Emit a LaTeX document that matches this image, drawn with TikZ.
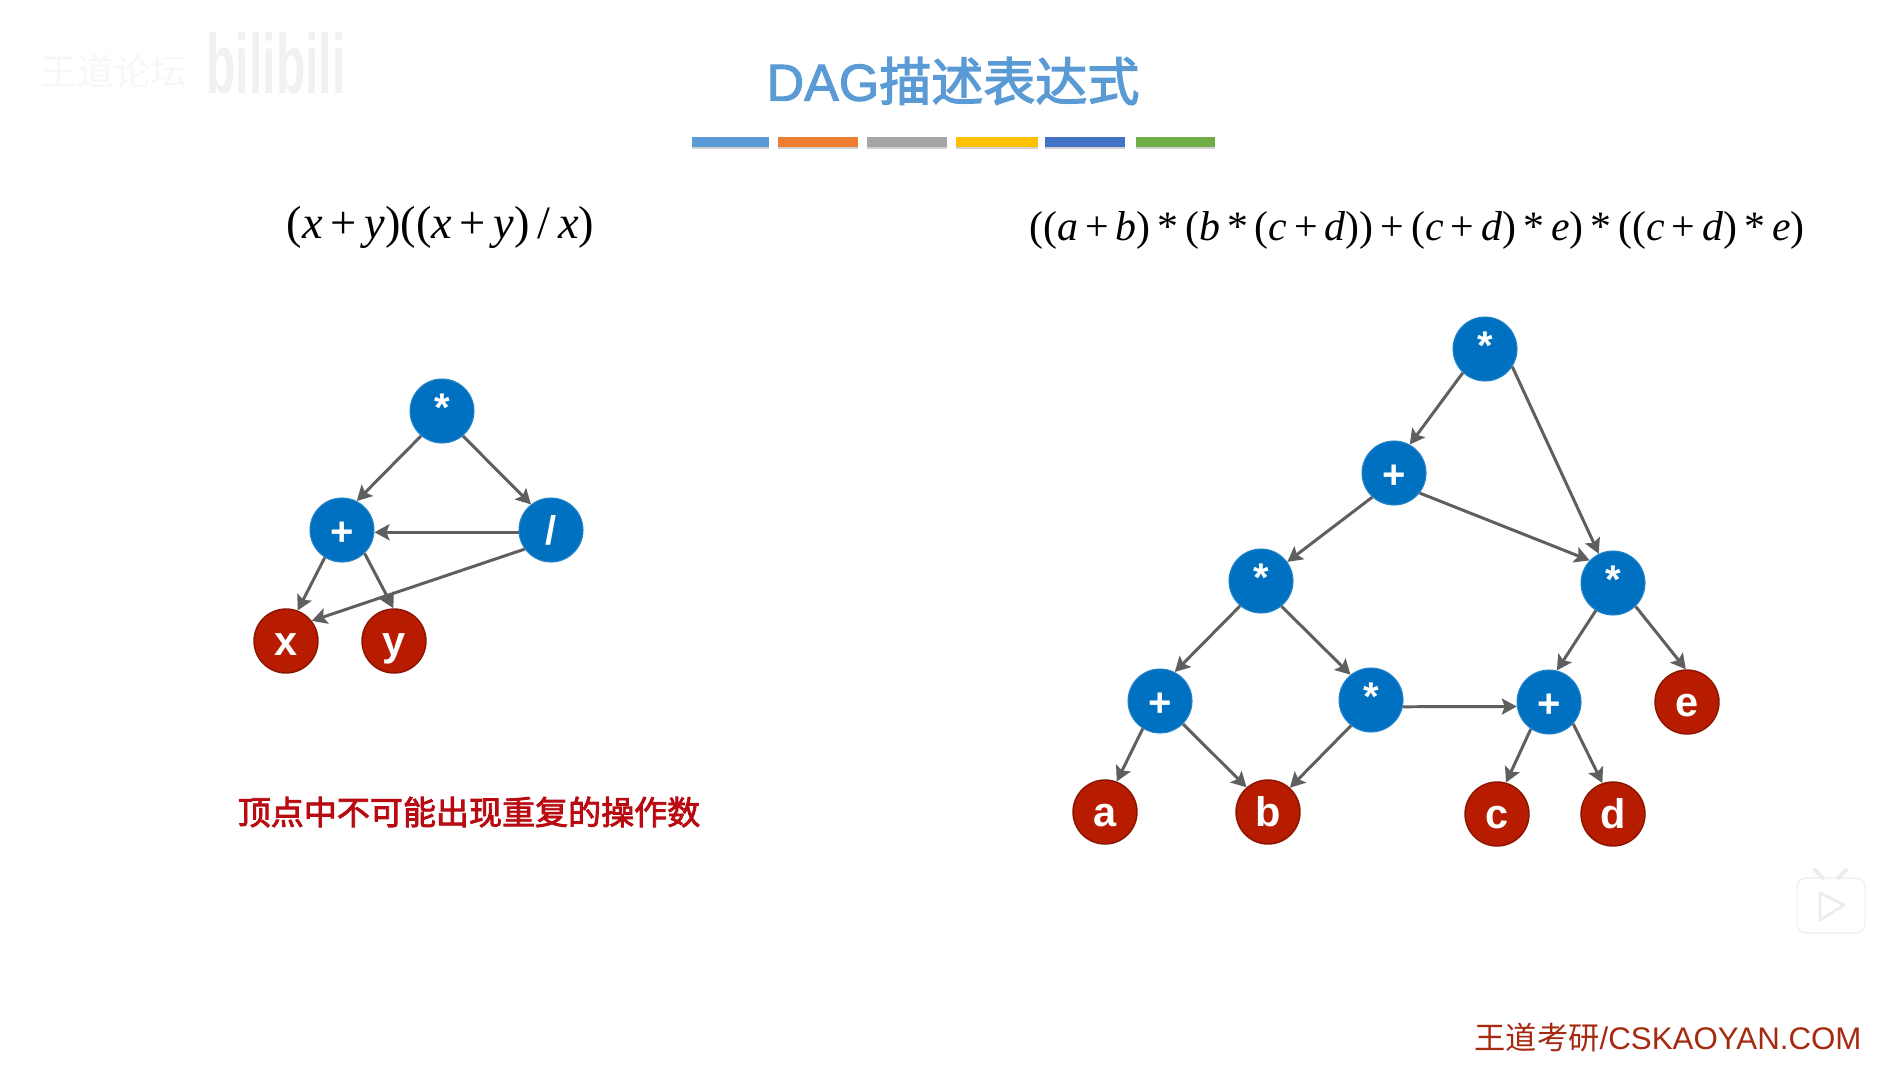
\documentclass[tikz,border=0pt]{standalone}
\usepackage{fontspec}
\setmainfont{Liberation Sans}
\newfontfamily\cjk[FakeBold=2.5]{Noto Sans CJK SC}
\newfontfamily\cjkthin{Noto Sans CJK SC}
\newfontfamily\titlefont[FakeBold=2]{Liberation Sans}
\newfontfamily\formulafont{Liberation Serif}
\usepackage{tikz}
\usetikzlibrary{arrows.meta}
\definecolor{nodeblue}{HTML}{0070C0}
\definecolor{nodered}{HTML}{B71C00}
\definecolor{edgegray}{HTML}{5F5F5F}
\definecolor{titleblue}{HTML}{5B9BD5}
\definecolor{noteRed}{HTML}{B80A10}
\definecolor{footRed}{HTML}{A52A10}
\definecolor{markgray}{HTML}{F1F1F1}
\newcommand{\mv}[1]{\textit{#1}}
\newcommand{\opstar}{\raisebox{1pt}{*}}
\newcommand{\opplus}{\raisebox{-0.5pt}{+}}
\tikzset{
  opnode/.style={circle, fill=nodeblue, draw=nodeblue!85!white, line width=0.3pt, minimum size=0.64cm, inner sep=0pt, text=white, font=\fontsize{11.4}{12}\selectfont\bfseries, text height=8.3pt, text depth=0.3pt},
  varnode/.style={circle, fill=nodered, draw=nodered!75!black, line width=0.4pt, minimum size=0.64cm, inner sep=0pt, text=white, font=\fontsize{11.8}{13}\selectfont\bfseries, text height=9.2pt, text depth=0.7pt},
  edge/.style={->, edgegray, line width=0.85pt},
  formula/.style={font=\formulafont, inner sep=0pt}
}
\begin{document}
\begin{tikzpicture}[>={Stealth[length=1.5mm,width=1.6mm,inset=0.3mm]}]
\useasboundingbox (0,0) rectangle (19.03,10.64);
% faint marks in the corners
\node[font=\fontsize{10.5}{11}\selectfont\cjkthin, text=markgray!60!white, inner sep=0pt] (markcn) at (1.14,9.93) {王道论坛};
\node[font=\fontsize{24}{25}\selectfont\bfseries, text=markgray, inner sep=0pt] (markbili) at (2.76,10.01) {\scalebox{0.57}[1]{bilibili}};
\fill[white, draw=black!7, line width=0.3pt, rounded corners=2.5pt] (17.97,1.31) rectangle (18.65,1.86);
\draw[black!7, line width=1.2pt, line cap=round] (18.15,1.94) -- (18.23,1.86);
\draw[black!7, line width=1.2pt, line cap=round] (18.46,1.94) -- (18.38,1.86);
\draw[black!7, fill=white, line width=0.8pt, line join=round] (18.20,1.71) -- (18.44,1.59) -- (18.20,1.44) -- cycle;
% title
\node[font=\fontsize{14.8}{16}\selectfont, text=titleblue, inner sep=0pt] (title) at (9.53,9.83) {{\titlefont DAG}{\cjk 描述表达式}};
\foreach \xa/\xb/\c in {6.92/7.69/5B9BD5, 7.78/8.58/ED7D31, 8.67/9.47/A5A5A5, 9.56/10.38/FFC000, 10.45/11.25/4472C4, 11.36/12.15/70AD47} {
  \fill[black!18] (\xa,9.15) rectangle (\xb,9.25);
  \definecolor{barcolor}{HTML}{\c}
  \fill[barcolor] (\xa,9.17) rectangle (\xb,9.27);
}
% formulas
\node[formula, font=\fontsize{13.2}{14}\selectfont\formulafont] (leftexpr) at (4.405,8.37) {(\mv{x}\,+\,\mv{y})((\mv{x}\,+\,\mv{y})\,/\,\mv{x})};
\node[formula, font=\fontsize{11.9}{12}\selectfont\formulafont] (rightexpr) at (14.17,8.34) {((\mv{a}\,+\,\mv{b})\,*\,(\mv{b}\,*\,(\mv{c}\,+\,\mv{d}))\,+\,(\mv{c}\,+\,\mv{d})\,*\,\mv{e})\,*\,((\mv{c}\,+\,\mv{d})\,*\,\mv{e})};
% left graph
\node[opnode] (topl) at (4.42,6.53) {\opstar};
\node[opnode] (plusl) at (3.42,5.34) {\opplus};
\node[opnode] (divl) at (5.51,5.34) {/};
\node[varnode] (x) at (2.86,4.23) {x};
\node[varnode] (y) at (3.94,4.23) {y};
\foreach \a/\b in {topl.230/plusl.63, topl.-50/divl.128, divl.184/plusl.-4, plusl.238/x.69, plusl.-46/y.91, divl.216/x.38}
  \draw[edge] (\a) -- (\b);
% right graph
\foreach \x/\y/\n/\l in {14.85/7.15/topr/\opstar, 13.94/5.91/plusr/\opplus, 12.61/4.83/mula/\opstar, 16.13/4.81/mulb/\opstar, 11.60/3.63/plusa/\opplus, 13.71/3.64/mulc/\opstar, 15.49/3.62/plusb/\opplus}
  \node[opnode] (\n) at (\x,\y) {\l};
\foreach \x/\y/\n in {11.05/2.52/a, 12.68/2.52/b, 14.97/2.50/c, 16.13/2.50/d, 16.87/3.62/e}
  \node[varnode] (\n) at (\x,\y) {\n};
\foreach \a/\b in {topr.227/plusr.61, topr.-33/mulb.116, plusr.-38/mulb.136, plusr.228/mula.36, mula.230/plusa.63, mula.-51/mulc.129, plusa.238/a.69, plusa.-45/b.131, mulc.232/b.48, mulc.-12/plusb.188, mulb.238/plusb.76, mulb.-46/e.92, plusb.236/c.74, plusb.-42/d.109}
  \draw[edge] (\a) -- (\b);
% notes
\node[font=\fontsize{9.4}{10}\selectfont\cjk, text=noteRed, inner sep=0pt] (note) at (4.69,2.52) {顶点中不可能出现重复的操作数};
\node[font=\fontsize{8.9}{10}\selectfont, text=footRed, inner sep=0pt] (site) at (16.68,0.26) {{\cjkthin 王道考研}/CSKAOYAN.COM};
\end{tikzpicture}
\end{document}
